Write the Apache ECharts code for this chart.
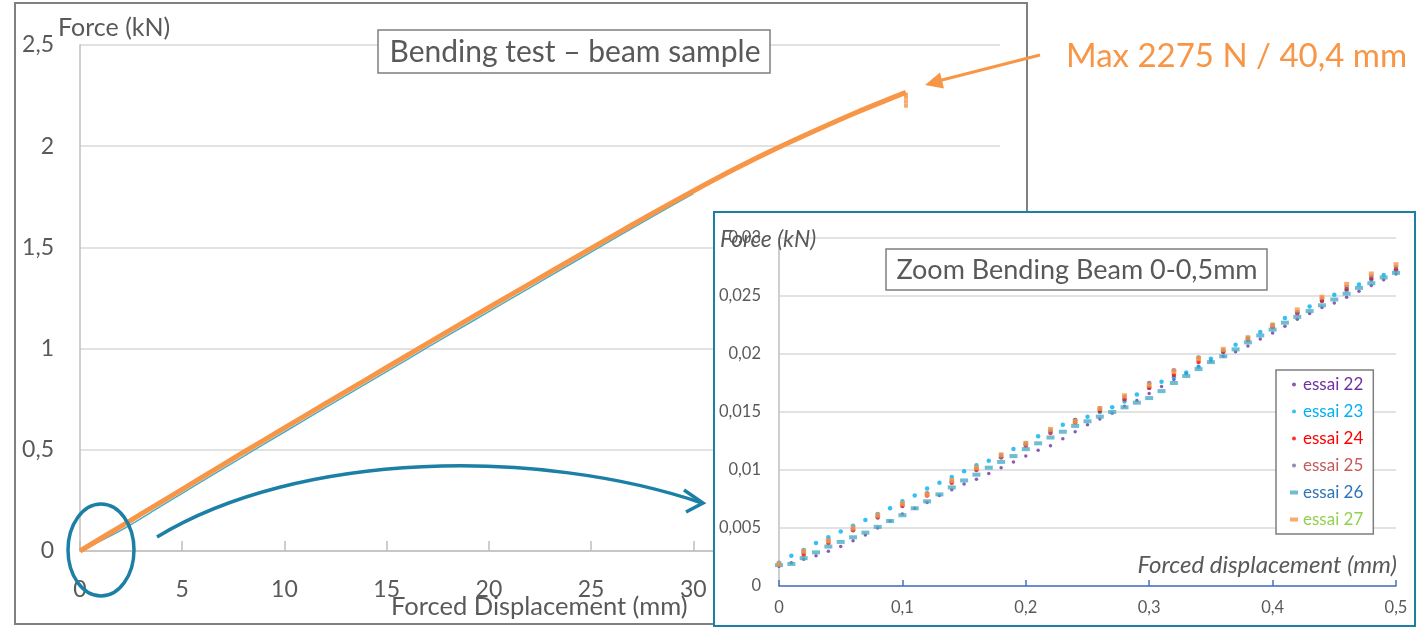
<!DOCTYPE html>
<html>
<head>
<meta charset="utf-8">
<script src="https://cdn.jsdelivr.net/npm/echarts@6/dist/echarts.min.js"></script>
<style>
body { margin: 0; background: #fff; }
#main { position: absolute; left: 0; top: 0; width: 1416px; height: 627px; }
#zoom {
    position: absolute; left: 713px; top: 211px; width: 703px; height: 416px;
    box-sizing: border-box; border: 2px solid #1B7FA6; background: #fff;
}
</style>
</head>
<body>
<div id="main"></div>
<div id="zoom"></div>
<script>
// main test : force vs displacement
var dispMm = [0, 2, 4, 6, 8, 10, 12, 14, 16, 18, 20, 22, 24, 26, 28, 30, 32, 34, 36, 38, 40, 40.4];
var forceKn = [0, 0.122, 0.244, 0.366, 0.488, 0.608, 0.728, 0.847, 0.966, 1.085, 1.203, 1.32, 1.437, 1.553, 1.668, 1.779,
    1.886, 1.986, 2.079, 2.168, 2.25, 2.266];
var dropDisp = [40.4, 40.4, 40.4, 40.4];
var dropForce = [2.255, 2.24, 2.22, 2.20];
// other tests, visible just under the orange one
var otherDisp = [0, 2, 4, 6, 8, 10, 12, 14, 16, 18, 20, 22, 24, 26, 28, 30];
var otherForce = [0, 0.102, 0.224, 0.346, 0.468, 0.588, 0.708, 0.827, 0.946, 1.065, 1.183, 1.30, 1.418, 1.536, 1.652, 1.766];

// zoom 0 - 0,5 mm
var xFine = [0, 0.01, 0.02, 0.03, 0.04, 0.05, 0.06, 0.07, 0.08, 0.09, 0.10, 0.11, 0.12, 0.13, 0.14, 0.15, 0.16, 0.17, 0.18, 0.19, 0.20,
    0.21, 0.22, 0.23, 0.24, 0.25, 0.26, 0.27, 0.28, 0.29, 0.30, 0.31, 0.32, 0.33, 0.34, 0.35, 0.36, 0.37, 0.38, 0.39, 0.40,
    0.41, 0.42, 0.43, 0.44, 0.45, 0.46, 0.47, 0.48, 0.49, 0.50];
var xCoarse = [0, 0.02, 0.04, 0.06, 0.08, 0.10, 0.12, 0.14, 0.16, 0.18, 0.20, 0.22, 0.24, 0.26, 0.28, 0.30, 0.32, 0.34, 0.36, 0.38, 0.40,
    0.42, 0.44, 0.46, 0.48, 0.50];
var essai22 = [0.0017, 0.0020, 0.0023, 0.0026, 0.0030, 0.0034, 0.0039, 0.0044, 0.0050, 0.0056, 0.0062, 0.0067, 0.0072, 0.0078, 0.0083,
    0.0088, 0.0092, 0.0097, 0.0102, 0.0107, 0.0112, 0.0117, 0.0121, 0.0127, 0.0133, 0.0139, 0.0144, 0.0149, 0.0155, 0.0160, 0.0166,
    0.0172, 0.0178, 0.0183, 0.0189, 0.0194, 0.0198, 0.0202, 0.0207, 0.0213, 0.0218, 0.0224, 0.0230, 0.0235, 0.0240, 0.0244, 0.0249,
    0.0254, 0.0259, 0.0264, 0.0269];
var essai23 = [0.0020, 0.0026, 0.0031, 0.0037, 0.0042, 0.0047, 0.0052, 0.0057, 0.0062, 0.0067, 0.0073, 0.0078, 0.0084, 0.0089, 0.0094,
    0.0099, 0.0104, 0.0108, 0.0113, 0.0118, 0.0123, 0.0129, 0.0134, 0.0139, 0.0143, 0.0146, 0.0150, 0.0154, 0.0159, 0.0165, 0.0171,
    0.0176, 0.0180, 0.0184, 0.0189, 0.0196, 0.0202, 0.0208, 0.0214, 0.0219, 0.0225, 0.0231, 0.0236, 0.0241, 0.0246, 0.0251, 0.0255,
    0.0260, 0.0264, 0.0268, 0.0272];
var essai26 = [0.0018, 0.0019, 0.0024, 0.0029, 0.0034, 0.0038, 0.0042, 0.0046, 0.0051, 0.0056, 0.0061, 0.0067, 0.0073, 0.0079, 0.0085,
    0.0091, 0.0096, 0.0102, 0.0107, 0.0112, 0.0118, 0.0123, 0.0128, 0.0133, 0.0138, 0.0142, 0.0146, 0.0150, 0.0154, 0.0158, 0.0162,
    0.0168, 0.0175, 0.0181, 0.0187, 0.0193, 0.0198, 0.0204, 0.0210, 0.0216, 0.0221, 0.0227, 0.0232, 0.0237, 0.0242, 0.0247, 0.0252,
    0.0257, 0.0261, 0.0266, 0.0270];
var essai24 = [0.0018, 0.0027, 0.0037, 0.0048, 0.0059, 0.0069, 0.0078, 0.0089, 0.0100, 0.0111, 0.0121, 0.0132, 0.0141, 0.0151, 0.0161,
    0.0171, 0.0182, 0.0193, 0.0202, 0.0212, 0.0223, 0.0235, 0.0246, 0.0256, 0.0265, 0.0273];
var essai25 = [0.0018, 0.0029, 0.0039, 0.0049, 0.0060, 0.0070, 0.0080, 0.0090, 0.0101, 0.0111, 0.0122, 0.0133, 0.0143, 0.0153, 0.0163,
    0.0175, 0.0186, 0.0197, 0.0203, 0.0213, 0.0224, 0.0236, 0.0248, 0.0258, 0.0267, 0.0275];
var essai27 = [0.0019, 0.0030, 0.0039, 0.0050, 0.0061, 0.0071, 0.0079, 0.0091, 0.0102, 0.0113, 0.0123, 0.0135, 0.0142, 0.0153, 0.0164,
    0.0173, 0.0185, 0.0196, 0.0204, 0.0214, 0.0225, 0.0238, 0.0249, 0.0260, 0.0269, 0.0277];

var FONT = 'Lato';
var GREY = '#595959';
var TEAL = '#1B7FA6';
var ORANGE = '#F79646';

function comma(v) {
    return String(+v.toFixed(4)).replace('.', ',');
}
function pairs(xs, ys) {
    return xs.map(function (x, i) { return [x, ys[i]]; });
}

// ---------- main chart ----------
var mainChart = echarts.init(document.getElementById('main'));
mainChart.setOption({
    animation: false,
    grid: { left: 80, top: 45, right: 416, bottom: 76 },
    xAxis: {
        type: 'value', min: 0, max: 45, interval: 5,
        axisLine: { lineStyle: { color: '#BFBFBF', width: 1.5 } },
        axisTick: { inside: true, length: 10, lineStyle: { color: '#BFBFBF', width: 1.5 } },
        axisLabel: { color: GREY, fontFamily: FONT, fontSize: 23, margin: 27, formatter: comma },
        splitLine: { show: false }
    },
    yAxis: {
        type: 'value', min: 0, max: 2.5, interval: 0.5,
        axisLine: { show: true, lineStyle: { color: '#BFBFBF', width: 1.5 } },
        axisTick: { show: false },
        axisLabel: { color: GREY, fontFamily: FONT, fontSize: 23, margin: 26, formatter: comma },
        splitLine: { lineStyle: { color: '#D9D9D9', width: 1.5 } }
    },
    series: [{
        type: 'line', data: pairs(otherDisp, otherForce), showSymbol: false, smooth: 0.3,
        lineStyle: { color: '#4BACC6', width: 1.5 }, z: 2
    }, {
        type: 'line', data: pairs(dispMm, forceKn), showSymbol: false, smooth: 0.3,
        lineStyle: { color: ORANGE, width: 5 }, z: 3
    }, {
        type: 'scatter', data: pairs(dropDisp, dropForce), symbol: 'rect', symbolSize: 4,
        itemStyle: { color: ORANGE }, z: 3
    }],
    graphic: [
        { type: 'rect', shape: { x: 15, y: 3, width: 1012, height: 621 }, style: { fill: 'none', stroke: '#808080', lineWidth: 2 }, z: 1 },
        { type: 'rect', shape: { x: 378, y: 30, width: 392, height: 43 }, style: { fill: '#fff', stroke: '#7F7F7F', lineWidth: 1.5 }, z: 5 },
        { type: 'text', x: 575, y: 52, z: 6, style: { text: 'Bending test – beam sample', fill: GREY, font: '30px ' + FONT, textAlign: 'center', textVerticalAlign: 'middle' } },
        { type: 'text', x: 58, y: 28, z: 6, style: { text: 'Force (kN)', fill: GREY, font: '25px ' + FONT, textAlign: 'left', textVerticalAlign: 'middle' } },
        { type: 'text', x: 391, y: 607, z: 6, style: { text: 'Forced Displacement (mm)', fill: GREY, font: '25.5px ' + FONT, textAlign: 'left', textVerticalAlign: 'middle' } },
        { type: 'ellipse', shape: { cx: 101, cy: 550, rx: 33, ry: 46 }, style: { fill: 'none', stroke: TEAL, lineWidth: 3.5 }, z: 6 },
        { type: 'bezierCurve', shape: { x1: 157, y1: 537, cpx1: 300, cpy1: 450, cpx2: 540, cpy2: 448, x2: 702, y2: 503 },
          style: { fill: 'none', stroke: TEAL, lineWidth: 3.5 }, z: 6 },
        { type: 'polyline', shape: { points: [[684, 490], [703, 503], [686, 512]] }, style: { fill: 'none', stroke: TEAL, lineWidth: 3.5 }, z: 6 },
        { type: 'line', shape: { x1: 1040, y1: 55, x2: 938, y2: 81 }, style: { stroke: ORANGE, lineWidth: 3 }, z: 6 },
        { type: 'polygon', shape: { points: [[925, 85], [944, 88.5], [940, 72.5]] }, style: { fill: ORANGE }, z: 6 },
        { type: 'text', x: 1066, y: 56, z: 6, style: { text: 'Max 2275 N / 40,4 mm', fill: ORANGE, font: '33px ' + FONT, textAlign: 'left', textVerticalAlign: 'middle' } }
    ]
});

// ---------- zoom chart ----------
var zoomChart = echarts.init(document.getElementById('zoom'));
var legendText = ['#7030A0', '#00B0F0', '#FF0000', '#C55A5A', '#2E75B6', '#92D050'];
var names = ['essai 22', 'essai 23', 'essai 24', 'essai 25', 'essai 26', 'essai 27'];
var icons = ['circle', 'circle', 'circle', 'circle', 'rect', 'rect'];

zoomChart.setOption({
    animation: false,
    grid: { left: 64, top: 25, right: 18, bottom: 39 },
    legend: {
        orient: 'vertical', left: 561, top: 157,
        backgroundColor: '#fff', borderColor: '#7F7F7F', borderWidth: 1.5,
        padding: [6, 10, 6, 14], itemGap: 10, itemWidth: 8, itemHeight: 4,
        textStyle: { fontFamily: FONT, fontSize: 17, lineHeight: 17 },
        data: names.map(function (n, i) {
            return { name: n, icon: icons[i], textStyle: { color: legendText[i] } };
        }),
        z: 10
    },
    xAxis: {
        type: 'value', min: 0, max: 0.5, interval: 0.1,
        axisLine: { lineStyle: { color: '#4472C4', width: 1.5 } },
        axisTick: { inside: true, length: 6, lineStyle: { color: '#4472C4', width: 1.5 } },
        axisLabel: { color: GREY, fontFamily: FONT, fontSize: 16.5, margin: 13, formatter: comma },
        splitLine: { show: false }
    },
    yAxis: {
        type: 'value', min: 0, max: 0.03, interval: 0.005,
        axisLine: { show: true, lineStyle: { color: '#BFBFBF', width: 1.5 } },
        axisTick: { show: false },
        axisLabel: { color: GREY, fontFamily: FONT, fontSize: 16.5, margin: 18, formatter: comma },
        splitLine: { lineStyle: { color: '#D9D9D9', width: 1.5 } }
    },
    series: [
        { name: 'essai 22', type: 'scatter', data: pairs(xFine, essai22), symbol: 'circle', symbolSize: 3.5, itemStyle: { color: '#7030A0' } },
        { name: 'essai 23', type: 'scatter', data: pairs(xFine, essai23), symbol: 'circle', symbolSize: 4.5, itemStyle: { color: '#00B0F0' } },
        { name: 'essai 24', type: 'scatter', data: pairs(xCoarse, essai24), symbol: 'circle', symbolSize: 4.5, itemStyle: { color: '#FF0000' } },
        { name: 'essai 25', type: 'scatter', data: pairs(xCoarse, essai25), symbol: 'circle', symbolSize: 4.5, itemStyle: { color: '#8064A2' } },
        { name: 'essai 26', type: 'scatter', data: pairs(xFine, essai26), symbol: 'rect', symbolSize: [8, 4], itemStyle: { color: '#4BACC6' } },
        { name: 'essai 27', type: 'scatter', data: pairs(xCoarse, essai27), symbol: 'rect', symbolSize: 5, itemStyle: { color: ORANGE } }
    ],
    graphic: [
        { type: 'rect', shape: { x: 171, y: 36, width: 381, height: 41 }, style: { fill: '#fff', stroke: '#7F7F7F', lineWidth: 1.5 }, z: 5 },
        { type: 'text', x: 362, y: 57, z: 6, style: { text: 'Zoom Bending Beam 0-0,5mm', fill: GREY, font: '27px ' + FONT, textAlign: 'center', textVerticalAlign: 'middle' } },
        { type: 'text', x: 5, y: 27, z: 6, style: { text: 'Force (kN)', fill: GREY, font: 'italic 23px ' + FONT, textAlign: 'left', textVerticalAlign: 'middle' } },
        { type: 'text', x: 682, y: 352, z: 6, style: { text: 'Forced displacement (mm)', fill: GREY, font: 'italic 24px ' + FONT, textAlign: 'right', textVerticalAlign: 'middle' } }
    ]
});
</script>
</body>
</html>
